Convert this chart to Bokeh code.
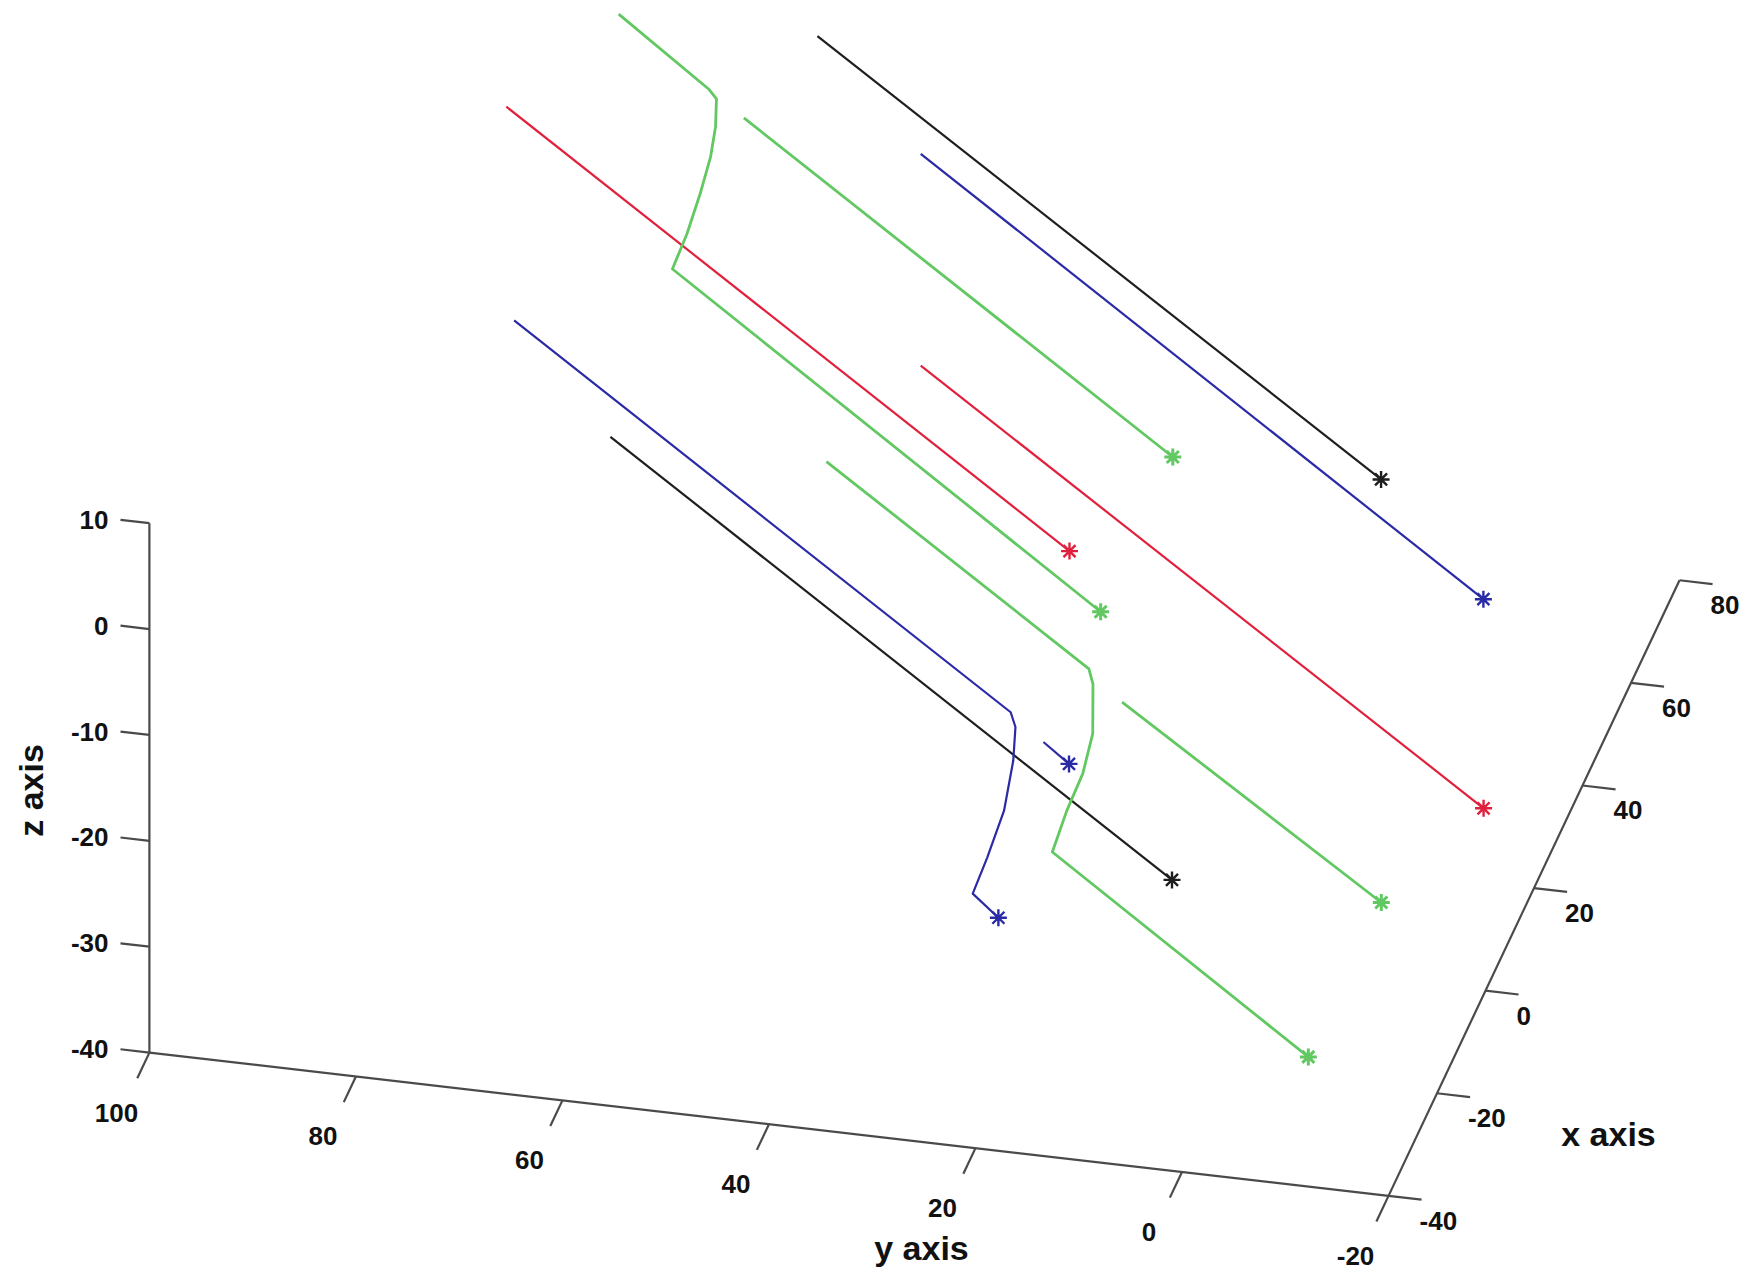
import numpy as np
from bokeh.plotting import figure
from bokeh.models import Range1d
from bokeh.core.properties import value
from bokeh.embed import file_html
from bokeh.resources import INLINE

# ---------------- data (x, y, z) ----------------
x_ticks = [-40, -20, 0, 20, 40, 60, 80]
y_ticks = [100, 80, 60, 40, 20, 0, -20]
z_ticks = [10, 0, -10, -20, -30, -40]
x_tick_labels = ["-40", "-20", "0", "20", "40", "60", "80"]
y_tick_labels = ["100", "80", "60", "40", "20", "0", "-20"]
z_tick_labels = ["10", "0", "-10", "-20", "-30", "-40"]

black_top_x = [64.3, -5.6]
black_top_y = [59.8, -11.2]
black_top_z = [10, 10]

blue_top_x = [83.9, 13.6]
blue_top_y = [54.4, -16.6]
blue_top_z = [-10, -10]

green_top_x = [47.6, -5.9]
green_top_y = [63.0, 8.9]
green_top_z = [10, 10]

green_change1_x = [64.1, 52.2, 52.9, 53.8, 54.7, 55.5, 56.5, 57.3, 3.1]
green_change1_y = [79.0, 67.5, 66.9, 67.2, 67.9, 69.1, 70.6, 72.2, 18.0]
green_change1_z = [10, 10, 8.8, 5.7, 2.3, -1.7, -6.1, -10, -10]

red_top_x = [44.6, -25.5]
red_top_y = [85.3, 14.3]
red_top_z = [10, 10]

red_mid_x = [83.9, 14.1]
red_mid_y = [54.4, -16.5]
red_mid_z = [-30, -30]

blue_change_x = [44.4, -17.4, -16.7, -15.9, -14.6, -13.4, -12.6, -16.5]
blue_change_y = [84.5, 21.9, 21.6, 22.0, 23.2, 25.1, 26.7, 23.3]
blue_change_z = [-10, -10, -11.7, -15.3, -20.8, -26.0, -30, -30]

blue_short_x = [-22.2, -25.7]
blue_short_y = [17.6, 14.3]
blue_short_z = [-10, -10]

black_low_x = [64.1, -5.8]
black_low_y = [79.8, 9.0]
black_low_z = [-30, -30]

green_change2_x = [25.0, -7.7, -7.3, -5.7, -4.7, -4.0, -3.2, -35.6]
green_change2_y = [49.7, 16.6, 16.3, 16.7, 17.9, 19.6, 21.2, -11.2]
green_change2_z = [-10, -10, -11.6, -17.1, -21.5, -25.5, -30, -30]

green_right_x = [26.0, -5.5]
green_right_y = [21.3, -11.2]
green_right_z = [-30, -30]

BLACK = "#1e1e1e"
BLUE = "#2a2aa6"
RED = "#e0203c"
GREEN = "#62c862"

trajectories = [
    (black_top_x, black_top_y, black_top_z, BLACK),
    (blue_top_x, blue_top_y, blue_top_z, BLUE),
    (green_top_x, green_top_y, green_top_z, GREEN),
    (red_top_x, red_top_y, red_top_z, RED),
    (green_change1_x, green_change1_y, green_change1_z, GREEN),
    (red_mid_x, red_mid_y, red_mid_z, RED),
    (black_low_x, black_low_y, black_low_z, BLACK),
    (blue_change_x, blue_change_y, blue_change_z, BLUE),
    (blue_short_x, blue_short_y, blue_short_z, BLUE),
    (green_change2_x, green_change2_y, green_change2_z, GREEN),
    (green_right_x, green_right_y, green_right_z, GREEN),
]

# ---------------- view (orthographic projection, page pixels) ----------------
X0, Y0, Z0 = -40.0, 100.0, -40.0          # axes corner
ORIGIN = (148.9, 1052.1)                  # pixel position of the corner
EX = (2.425, -5.130)                      # pixels per unit x
EY = (-10.326, -1.194)                    # pixels per unit y
EZ = (0.0, -10.589)                       # pixels per unit z


def proj(x, y, z):
    x = np.asarray(x, float) - X0
    y = np.asarray(y, float) - Y0
    z = np.asarray(z, float) - Z0
    sx = ORIGIN[0] + EX[0] * x + EY[0] * y + EZ[0] * z
    sy = ORIGIN[1] + EX[1] * x + EY[1] * y + EZ[1] * z
    return sx, sy


W, H = 1739, 1270
p = figure(width=W, height=H, output_backend="svg", toolbar_location=None,
           x_range=Range1d(0, W), y_range=Range1d(H, 0),
           min_border=0)
p.axis.visible = False
p.grid.visible = False
p.outline_line_color = None
p.background_fill_color = "white"

AX_COLOR = "#4a4a4a"
FONT = value("Liberation Sans")
TICK_FS = "26px"
TITLE_FS = "34px"

# axis lines
xs, ys = [], []
for a, b, c in [([-40, -40], [100, 100], [-40, 10]),
                ([-40, -40], [100, -20], [-40, -40]),
                ([-40, 80], [-20, -20], [-40, -40])]:
    sx, sy = proj(a, b, c)
    xs.append(list(sx)); ys.append(list(sy))
# ticks
TZ, TY, TX = 2.8, 5.0, 3.2
for z in z_ticks:
    sx, sy = proj([-40, -40], [100, 100 + TZ], [z, z])
    xs.append(list(sx)); ys.append(list(sy))
for y in y_ticks:
    sx, sy = proj([-40, -40 - TY], [y, y], [-40, -40])
    xs.append(list(sx)); ys.append(list(sy))
for x in x_ticks:
    sx, sy = proj([x, x], [-20, -20 - TX], [-40, -40])
    xs.append(list(sx)); ys.append(list(sy))
p.multi_line(xs, ys, line_color=AX_COLOR, line_width=2.2)

# tick labels
sx, sy = proj([-40] * len(z_ticks), [100 + TZ] * len(z_ticks), z_ticks)
p.text(x=list(sx), y=list(sy), text=z_tick_labels, x_offset=-12,
       text_align="right", text_baseline="middle", text_font=FONT,
       text_font_style="bold", text_font_size=TICK_FS, text_color="#111111")
sx, sy = proj([-40] * len(y_ticks), y_ticks, [-40] * len(y_ticks))
p.text(x=list(sx), y=list(sy), text=y_tick_labels, x_offset=-33, y_offset=60,
       text_align="center", text_baseline="middle", text_font=FONT,
       text_font_style="bold", text_font_size=TICK_FS, text_color="#111111")
sx, sy = proj(x_ticks, [-20] * len(x_ticks), [-40] * len(x_ticks))
p.text(x=list(sx), y=list(sy), text=x_tick_labels, x_offset=31, y_offset=25,
       text_align="left", text_baseline="middle", text_font=FONT,
       text_font_style="bold", text_font_size=TICK_FS, text_color="#111111")

# axis titles
p.text(x=[30], y=[790], text=["z axis"], angle=np.pi / 2, text_align="center",
       text_baseline="middle", text_font=FONT, text_font_style="bold",
       text_font_size=TITLE_FS, text_color="#111111")
p.text(x=[921], y=[1247], text=["y axis"], text_align="center",
       text_baseline="middle", text_font=FONT, text_font_style="bold",
       text_font_size=TITLE_FS, text_color="#111111")
p.text(x=[1608], y=[1133], text=["x axis"], text_align="center",
       text_baseline="middle", text_font=FONT, text_font_style="bold",
       text_font_size=TITLE_FS, text_color="#111111")

# trajectories
for tx, ty, tz, col in trajectories:
    sx, sy = proj(tx, ty, tz)
    lw = 2.8 if col == GREEN else 2.2
    p.line(list(sx), list(sy), line_color=col, line_width=lw, line_join="round")
    p.scatter([sx[-1]], [sy[-1]], marker="asterisk", size=17,
              line_color=col, line_width=3.0 if col == GREEN else 2.4)

open("out.html", "w").write(file_html(p, INLINE))
